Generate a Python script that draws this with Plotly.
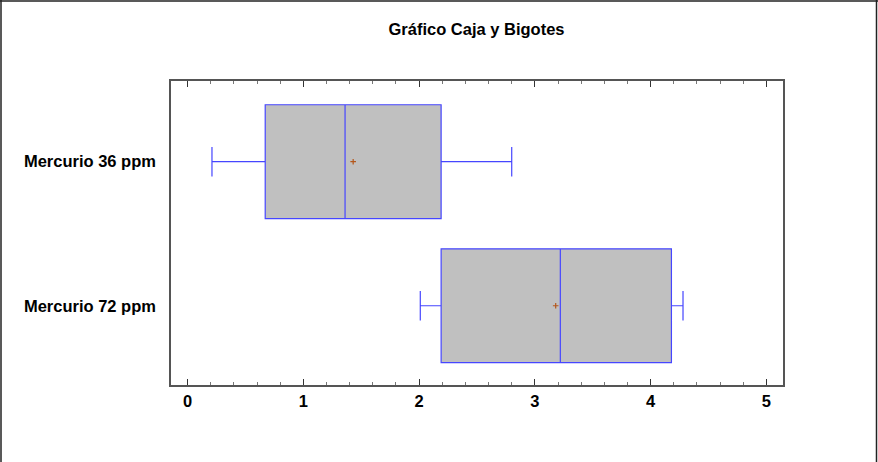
import plotly.graph_objects as go

# Grupos (categorías) y estadísticos de cada caja
grupos = ["Mercurio 36 ppm", "Mercurio 72 ppm"]
minimos = [0.21, 2.01]
q1 = [0.67, 2.19]
medianas = [1.36, 3.22]
q3 = [2.19, 4.18]
maximos = [2.80, 4.28]
medias = [1.43, 3.18]

ticks_x = [0, 1, 2, 3, 4, 5]

AZUL = "#4646ff"
GRIS = "#c0c0c0"
MARRON = "#b4561a"
FUENTE = "Liberation Sans, Arial, sans-serif"

fig = go.Figure()

for i, g in enumerate(grupos):
    fig.add_trace(go.Box(
        y=[g],
        q1=[q1[i]],
        median=[medianas[i]],
        q3=[q3[i]],
        lowerfence=[minimos[i]],
        upperfence=[maximos[i]],
        orientation="h",
        fillcolor=GRIS,
        line=dict(color=AZUL, width=1.2),
        width=0.79,
        whiskerwidth=0.26,
        boxpoints=False,
        showlegend=False,
        hoverinfo="skip",
    ))

# Media de cada grupo marcada con una cruz
fig.add_trace(go.Scatter(
    x=medias,
    y=grupos,
    mode="markers",
    marker=dict(symbol="cross-thin", size=4, line=dict(color=MARRON, width=1.2), color=MARRON),
    showlegend=False,
    hoverinfo="skip",
))

L, R, T, B = 171, 95, 81, 77
W, H = 878, 462
pw, ph = W - L - R, H - T - B

def px(x):
    return (x - L) / pw

def py(y):
    return 1 - (y - T) / ph

# Marco exterior del gráfico
marco = dict(type="line", xref="paper", yref="paper", line=dict(color="#222222", width=1.5))
shapes = [
    dict(marco, x0=px(1), x1=px(1), y0=py(0), y1=py(H + 2)),
    dict(marco, x0=px(0), x1=px(W), y0=py(1), y1=py(1)),
    dict(marco, x0=px(876.5), x1=px(876.5), y0=py(0), y1=py(H + 2)),
]

fig.update_layout(
    width=W,
    height=H,
    margin=dict(l=L, r=R, t=T, b=B),
    paper_bgcolor="white",
    plot_bgcolor="white",
    title=dict(
        text="<b>Gráfico Caja y Bigotes</b>",
        x=px(476.5), xref="paper", xanchor="center",
        y=1 - 29 / H, yanchor="middle",
        font=dict(family=FUENTE, size=16.5, color="black"),
    ),
    xaxis=dict(
        range=[-0.144, 5.144],
        tickvals=ticks_x,
        ticktext=[f"<b>{t}</b>" for t in ticks_x],
        ticks="inside",
        ticklen=6,
        tickcolor="#333333",
        showline=True,
        linecolor="#555555",
        linewidth=1.5,
        mirror="allticks",
        showgrid=False,
        zeroline=False,
        tickfont=dict(family=FUENTE, size=16.5, color="black"),
        minor=dict(dtick=0.2, tick0=0, ticks="inside", ticklen=3, tickcolor="#777777", showgrid=False),
    ),
    yaxis=dict(
        categoryorder="array",
        categoryarray=grupos,
        range=[1.55, -0.56],
        ticks="",
        ticktext=[f"<b>{g}</b>" for g in grupos],
        tickvals=grupos,
        showline=True,
        linecolor="#555555",
        linewidth=1.5,
        mirror=True,
        showgrid=False,
        zeroline=False,
        tickfont=dict(family=FUENTE, size=16.5, color="black"),
        ticklabelstandoff=10,
    ),
    shapes=shapes,
)

fig.write_html("out.html")
